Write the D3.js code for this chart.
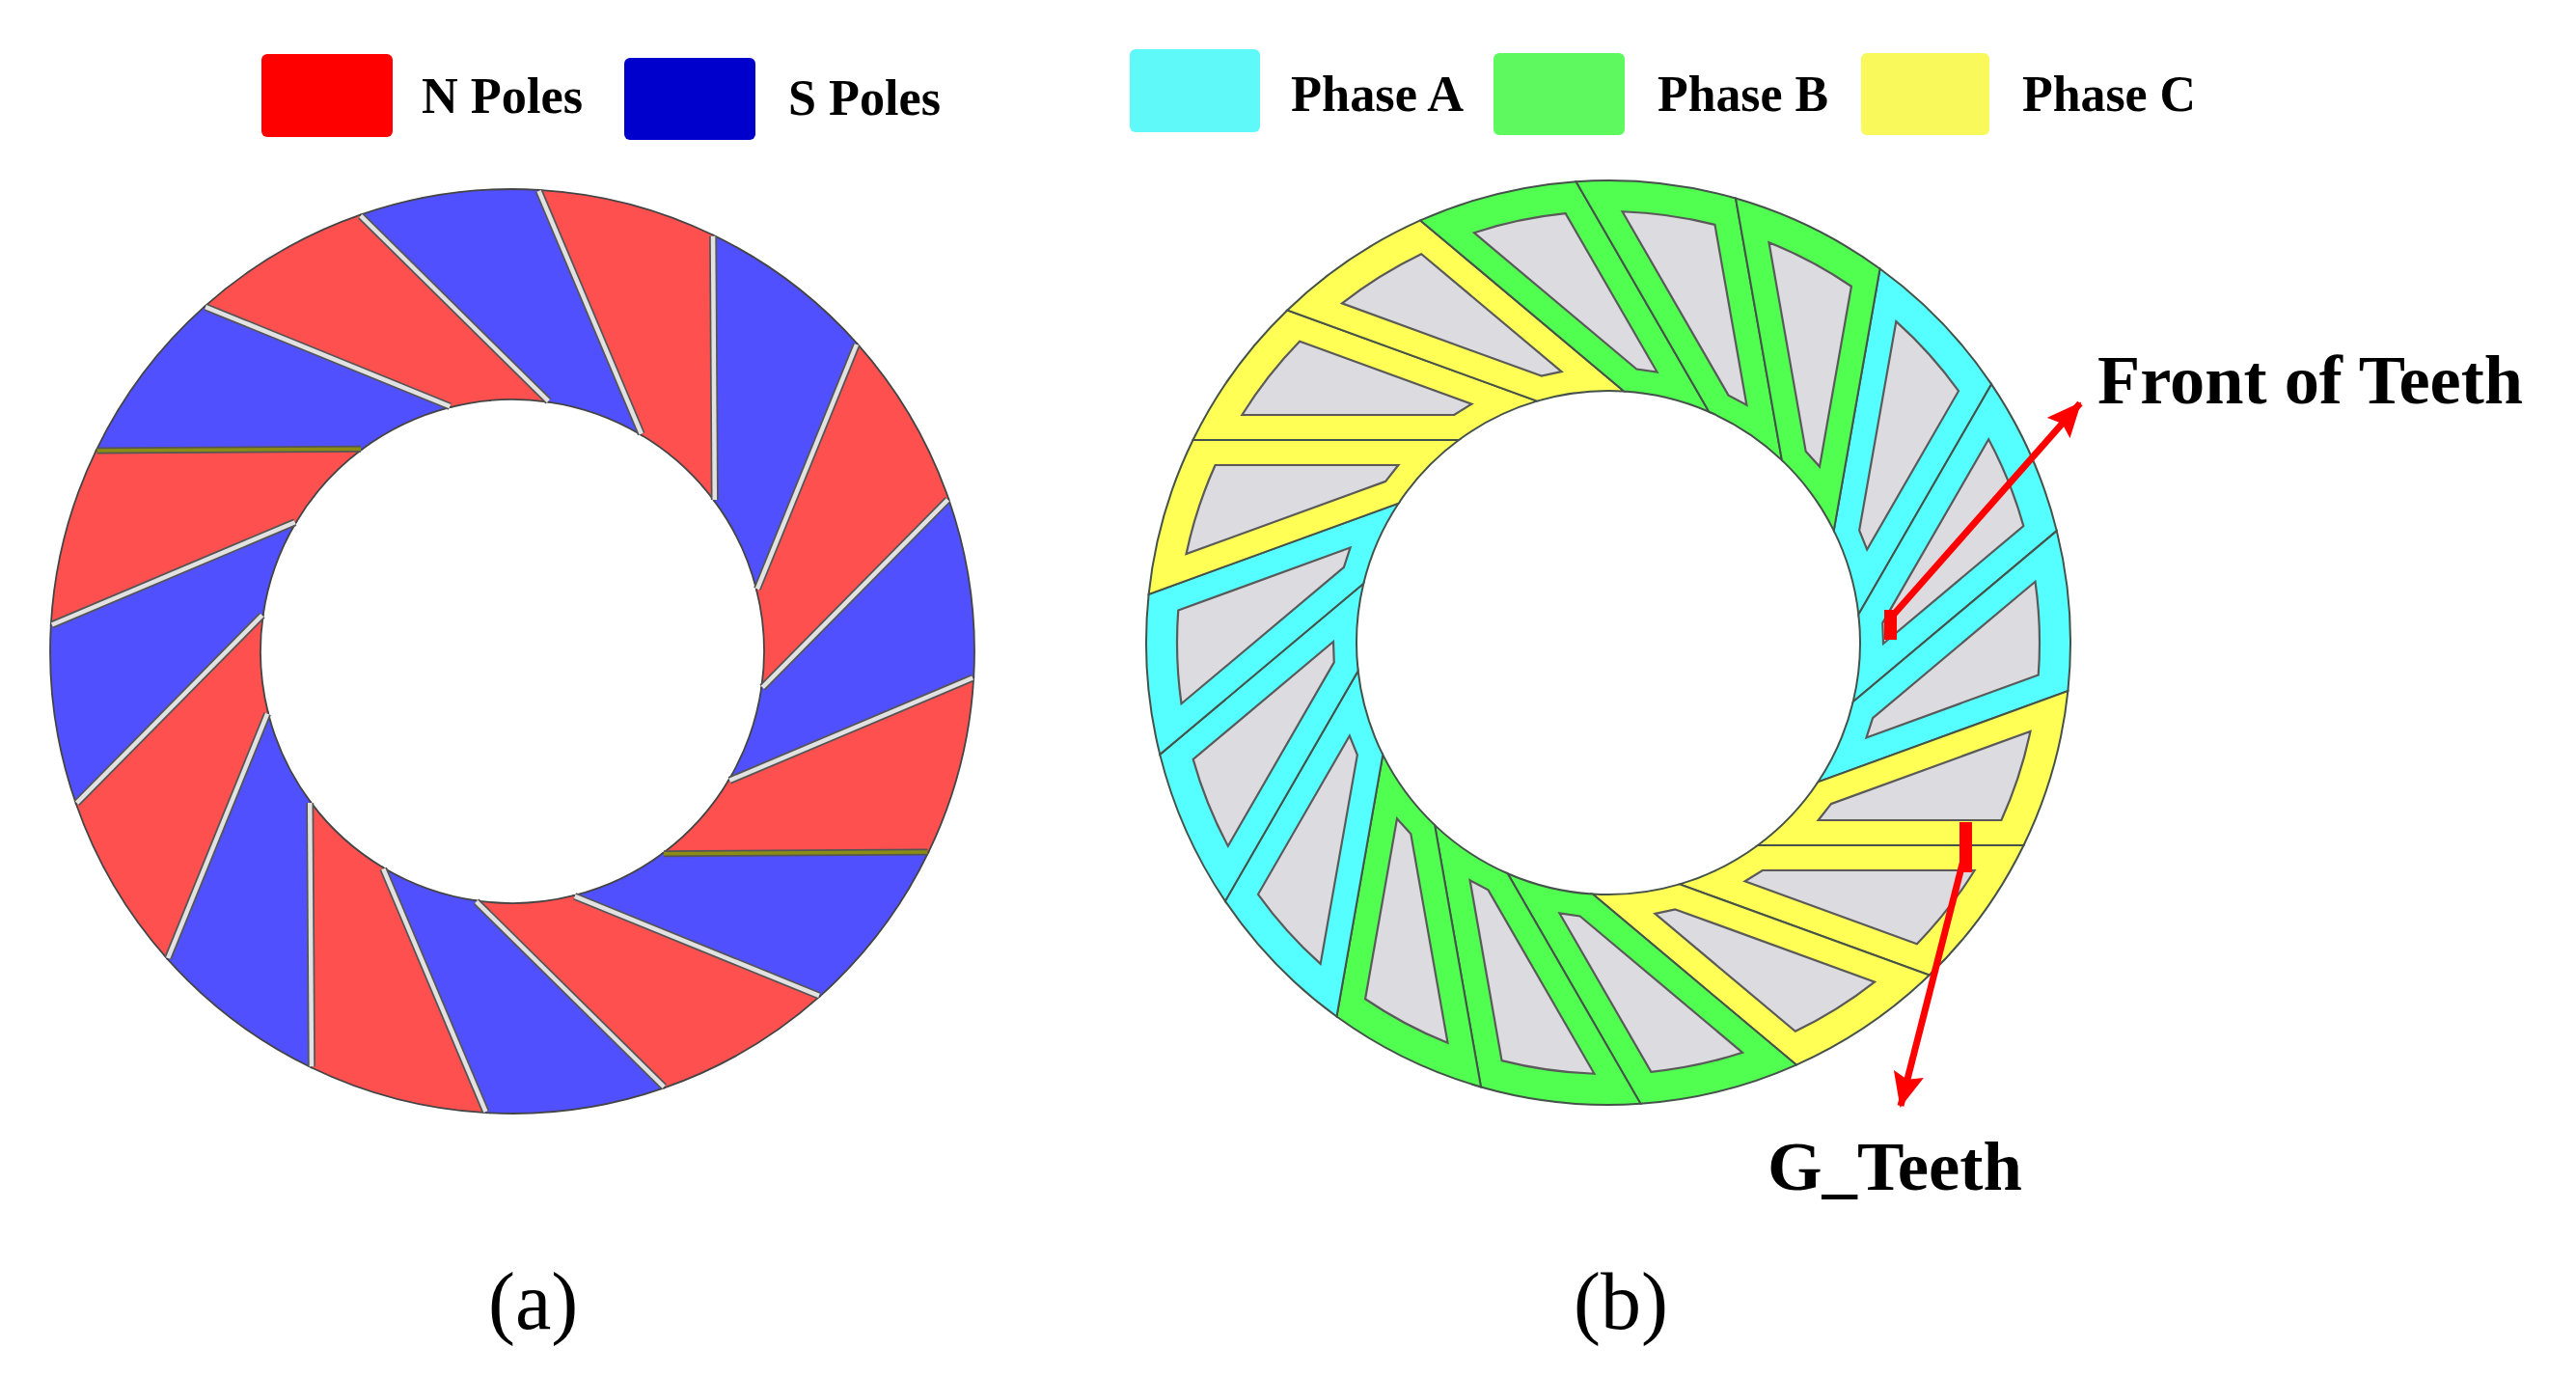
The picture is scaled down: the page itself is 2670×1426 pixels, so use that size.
<!DOCTYPE html>
<html>
<head>
<meta charset="utf-8">
<script src="https://d3js.org/d3.v7.min.js"></script>
<style>
  html, body { margin: 0; background: #fff; }
  text { font-family: "Liberation Serif", serif; fill: #000; }
</style>
</head>
<body>
<div id="chart-area"></div>
<script>
// angles in degrees, clockwise from 12 o'clock
var poleOuterAngles = [25.8, 48.3, 70.8, 93.3, 115.8, 138.3, 160.8, 183.3, 205.8, 228.3, 250.8, 273.3, 295.8, 318.3, 340.8, 3.3];
var poleInnerAngles = [53.2, 75.7, 98.2, 120.7, 143.2, 165.7, 188.2, 210.7, 233.2, 255.7, 278.2, 300.7, 323.2, 345.7, 8.2, 30.7];
var poleKinds = ["S", "N", "S", "N", "S", "N", "S", "N", "S", "N", "S", "N", "S", "N", "S", "N"];
var poleGapKinds = ["gap", "gap", "gap", "gap", "seam", "gap", "gap", "gap", "gap", "gap", "gap", "gap", "seam", "gap", "gap", "gap"];

var toothOuterAngles = [36, 56, 76, 96, 116, 136, 156, 176, 196, 216, 236, 256, 276, 296, 316, 336, 356, 16];
var toothPhases = ["A", "A", "A", "C", "C", "C", "B", "B", "B", "A", "A", "A", "C", "C", "C", "B", "B", "B"];

var poleLegendNames = ["N", "S"];
var poleLegendLabels = ["N Poles", "S Poles"];
var phaseLegendNames = ["A", "B", "C"];
var phaseLegendLabels = ["Phase A", "Phase B", "Phase C"];

var poleFill = d3.scaleOrdinal().domain(["N", "S"]).range(["#ff5050", "#5050ff"]);
var poleSwatch = d3.scaleOrdinal().domain(["N", "S"]).range(["#ff0000", "#0000cc"]);
var phaseFill = d3.scaleOrdinal().domain(["A", "B", "C"]).range(["#55ffff", "#50ff50", "#ffff55"]);
var phaseSwatch = d3.scaleOrdinal().domain(["A", "B", "C"]).range(["#60f9f9", "#5ef95e", "#f9f95c"]);

var rad = d3.scaleLinear().domain([0, 360]).range([0, 2 * Math.PI]);
var deg = 180 / Math.PI;

var svg = d3.select("#chart-area").append("svg")
  .attr("width", 2670)
  .attr("height", 1426)
  .style("display", "block");

var defs = svg.append("defs");
defs.append("marker")
  .attr("id", "head")
  .attr("markerUnits", "userSpaceOnUse")
  .attr("viewBox", "0 0 36 32")
  .attr("refX", 34).attr("refY", 16)
  .attr("markerWidth", 36).attr("markerHeight", 32)
  .attr("orient", "auto")
  .append("path")
  .attr("d", "M0,0L36,16L0,32L6,16Z")
  .attr("fill", "#ff0000");

// pt on a circle, same convention as the angle arrays
function polar(a, r) {
  return d3.pointRadial(rad(a), r);
}

// ring sector between two skewed lines, outer arc then inner arc back
function sector(o0, o1, i0, i1, R, r) {
  var p = d3.path();
  var a = polar(o0, R);
  p.moveTo(a[0], a[1]);
  p.arc(0, 0, R, rad(o0 - 90), rad(o1 - 90), false);
  var b = polar(i1, r);
  p.lineTo(b[0], b[1]);
  p.arc(0, 0, r, rad(i1 - 90), rad(i0 - 90), true);
  p.closePath();
  return p.toString();
}

function nextAngle(a0, a1) {
  return a1 < a0 ? a1 + 360 : a1;
}

// ---------- (a) rotor
var rotor = svg.append("g").attr("transform", "translate(531,675)");
var rotorR = 479, rotorr = 261;

rotor.selectAll("path.pole")
  .data(poleKinds)
  .enter().append("path")
  .attr("class", "pole")
  .attr("d", function(d, i) {
    var j = (i + 1) % poleKinds.length;
    var o1 = nextAngle(poleOuterAngles[i], poleOuterAngles[j]);
    var i1 = nextAngle(poleInnerAngles[i], poleInnerAngles[j]);
    return sector(poleOuterAngles[i], o1, poleInnerAngles[i], i1, rotorR, rotorr);
  })
  .attr("fill", function(d) { return poleFill(d); })
  .attr("stroke", "#444")
  .attr("stroke-width", 1.8);

var gapWidth = d3.scaleOrdinal().domain(["gap", "seam"]).range([8, 7]);
var gapCore = d3.scaleOrdinal().domain(["gap", "seam"]).range(["#e2e2e2", "#8a8c14"]);

function gapLine(i) {
  var a = polar(poleOuterAngles[i], rotorR - 1);
  var b = polar(poleInnerAngles[i], rotorr + 1);
  return { x1: a[0], y1: a[1], x2: b[0], y2: b[1] };
}

rotor.selectAll("line.gapEdge")
  .data(poleGapKinds)
  .enter().append("line")
  .attr("class", "gapEdge")
  .attr("x1", function(d, i) { return gapLine(i).x1; })
  .attr("y1", function(d, i) { return gapLine(i).y1; })
  .attr("x2", function(d, i) { return gapLine(i).x2; })
  .attr("y2", function(d, i) { return gapLine(i).y2; })
  .attr("stroke", "#555")
  .attr("stroke-width", function(d) { return gapWidth(d); });

rotor.selectAll("line.gapCore")
  .data(poleGapKinds)
  .enter().append("line")
  .attr("class", "gapCore")
  .attr("x1", function(d, i) { return gapLine(i).x1; })
  .attr("y1", function(d, i) { return gapLine(i).y1; })
  .attr("x2", function(d, i) { return gapLine(i).x2; })
  .attr("y2", function(d, i) { return gapLine(i).y2; })
  .attr("stroke", function(d) { return gapCore(d); })
  .attr("stroke-width", function(d) { return gapWidth(d) - 3.5; });

// ---------- (b) stator
var stator = svg.append("g").attr("transform", "translate(1667,666)");
var statorR = 479, statorr = 261;
var toothP = 210, toothW = 26;
var slotR = 447, slotr = 285;

// each tooth line sits toothP from the centre, its foot is at outer angle + acos(p/R)
function foot(a) {
  return a + Math.acos(toothP / statorR) * deg;
}

function innerAngle(a) {
  return foot(a) - Math.acos(toothP / statorr) * deg;
}

function onLine(f, p, r) {
  return f - Math.acos(p / r) * deg;
}

stator.selectAll("path.winding")
  .data(toothPhases)
  .enter().append("path")
  .attr("class", "winding")
  .attr("d", function(d, i) {
    var a0 = toothOuterAngles[i];
    var a1 = nextAngle(a0, toothOuterAngles[(i + 1) % toothOuterAngles.length]);
    return sector(a0, a1, innerAngle(a0), innerAngle(a1), statorR, statorr);
  })
  .attr("fill", function(d) { return phaseFill(d); })
  .attr("stroke", "#45524a")
  .attr("stroke-width", 2);

stator.selectAll("path.slot")
  .data(toothPhases)
  .enter().append("path")
  .attr("class", "slot")
  .attr("d", function(d, i) {
    var a0 = toothOuterAngles[i];
    var a1 = nextAngle(a0, toothOuterAngles[(i + 1) % toothOuterAngles.length]);
    var f0 = foot(a0), f1 = foot(a1);
    var s = polar(onLine(f0, toothP + toothW, slotr), slotr);
    var t = polar(onLine(f0, toothP + toothW, slotR), slotR);
    var u = polar(onLine(f1, toothP - toothW, slotr), slotr);
    var p = d3.path();
    p.moveTo(s[0], s[1]);
    p.lineTo(t[0], t[1]);
    p.arc(0, 0, slotR, rad(onLine(f0, toothP + toothW, slotR) - 90), rad(onLine(f1, toothP - toothW, slotR) - 90), false);
    p.lineTo(u[0], u[1]);
    p.closePath();
    return p.toString();
  })
  .attr("fill", "#dcdce0")
  .attr("stroke", "#5a5a5a")
  .attr("stroke-width", 2.2);

// ---------- arrows
svg.append("rect").attr("x", 1953).attr("y", 632).attr("width", 13).attr("height", 31).attr("fill", "#ff0000");
svg.append("line")
  .attr("x1", 1960).attr("y1", 640).attr("x2", 2156).attr("y2", 418)
  .attr("stroke", "#ff0000").attr("stroke-width", 7).attr("marker-end", "url(#head)");

svg.append("rect").attr("x", 2031).attr("y", 852).attr("width", 13).attr("height", 52).attr("fill", "#ff0000");
svg.append("line")
  .attr("x1", 2034).attr("y1", 895).attr("x2", 1970).attr("y2", 1146)
  .attr("stroke", "#ff0000").attr("stroke-width", 7).attr("marker-end", "url(#head)");

// ---------- legends
function swatch(x, y, w, h, c) {
  svg.append("rect")
    .attr("x", x).attr("y", y).attr("width", w).attr("height", h)
    .attr("rx", 6).attr("fill", c);
}

function label(s, x, y, size, weight, len) {
  var t = svg.append("text")
    .attr("x", x).attr("y", y)
    .attr("font-size", size)
    .attr("font-weight", weight)
    .text(s);
  if (len) t.attr("textLength", len).attr("lengthAdjust", "spacingAndGlyphs");
}

swatch(271, 56, 136, 86, poleSwatch(poleLegendNames[0]));
swatch(647, 60, 136, 85, poleSwatch(poleLegendNames[1]));
label(poleLegendLabels[0], 437, 117, 53, "bold", 167);
label(poleLegendLabels[1], 817, 119, 53, "bold", 158);

swatch(1171, 51, 135, 86, phaseSwatch(phaseLegendNames[0]));
swatch(1548, 55, 136, 85, phaseSwatch(phaseLegendNames[1]));
swatch(1929, 55, 133, 85, phaseSwatch(phaseLegendNames[2]));
label(phaseLegendLabels[0], 1338, 115, 53, "bold", 179);
label(phaseLegendLabels[1], 1718, 115, 53, "bold", 177);
label(phaseLegendLabels[2], 2096, 115, 53, "bold", 180);

label("Front of Teeth", 2174, 418, 72, "bold", 441);
label("G_Teeth", 1832, 1233, 72, "bold", 264);

label("(a)", 506, 1377, 84, "normal");
label("(b)", 1631, 1377, 84, "normal");
</script>
</body>
</html>
